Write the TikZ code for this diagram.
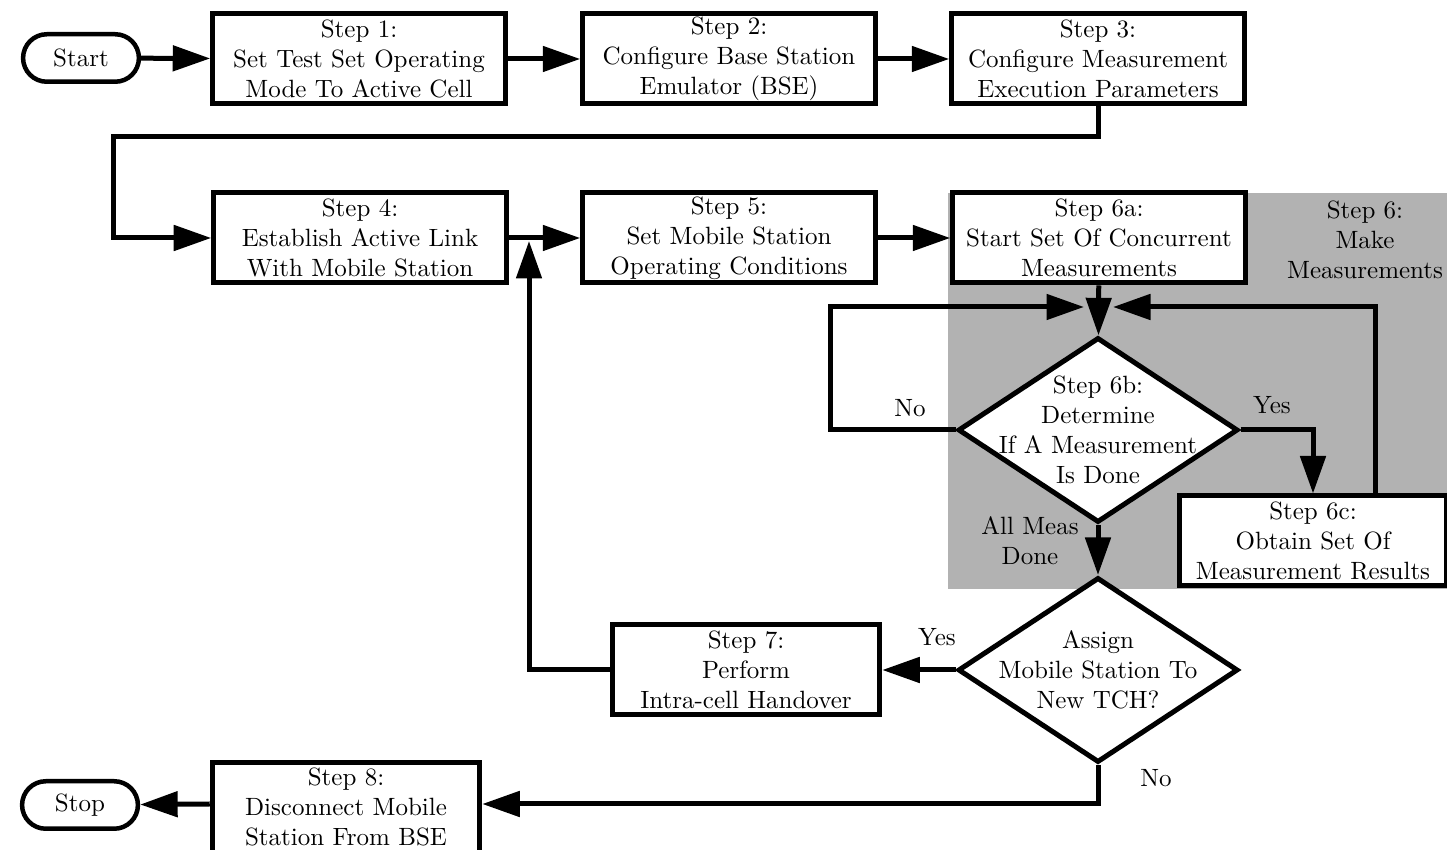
\documentclass[tikz,border=0pt]{standalone}
\usepackage{tikz}
\usepackage{xcolor}
\usetikzlibrary{shapes}
\usetikzlibrary{positioning, arrows.meta}

\definecolor{measgray}{gray}{0.7}

\begin{document}
\begin{tikzpicture}[x=0.4pt, y=-0.4pt,
    stepbox/.style={rectangle, draw, line width=2pt, fill=white, align=center, minimum width=117pt, minimum height=36pt, inner sep=0pt},
    shortbox/.style={stepbox, minimum width=107pt},
    terminal/.style={rounded rectangle, draw, line width=1.8pt, fill=white, minimum width=53pt, minimum height=19pt},
    decision/.style={diamond, draw, line width=2pt, fill=white, minimum width=112pt, minimum height=74pt, inner sep=0pt},
    flow/.style={line width=2pt, -{Triangle[length=15pt, width=10pt]}},
    plain/.style={line width=2pt}]
                \useasboundingbox (0,0) rectangle (1447,850);

                % Step 6 area
                \fill[measgray] (948,193) rectangle (1447,589);
                \node[align=center] (MakeMeas) at (1365,240) {Step 6:\\Make\\Measurements};

                % Nodes
                \node[terminal] (Start) at (81,58) {Start};
                \node[stepbox] (StepOne) at (359,59) {Step 1:\\Set Test Set Operating\\Mode To Active Cell};
                \node[stepbox] (StepTwo) at (729,59) {Step 2:\\Configure Base Station\\Emulator (BSE)};
                \node[stepbox] (StepThree) at (1098,59) {Step 3:\\Configure Measurement\\Execution Parameters};
                \node[stepbox] (StepFour) at (360,238) {Step 4:\\Establish Active Link\\With Mobile Station};
                \node[stepbox] (StepFive) at (729,238) {Step 5:\\Set Mobile Station\\Operating Conditions};
                \node[stepbox] (StepSixA) at (1099,238) {Step 6a:\\Start Set Of Concurrent\\Measurements};
                \node[decision, label={[align=center]center:{Step 6b:\\Determine\\If A Measurement\\Is Done}}] (StepSixB) at (1098,430) {};
                \node[shortbox] (StepSixC) at (1313,541) {Step 6c:\\Obtain Set Of\\Measurement Results};
                \node[decision, label={[align=center]center:{Assign\\Mobile Station To\\New TCH?}}] (Assign) at (1098,670) {};
                \node[shortbox] (StepSeven) at (746,670) {Step 7:\\Perform\\Intra-cell Handover};
                \node[shortbox, minimum height=38pt, label={[align=center, yshift=1.2pt]center:{Step 8:\\Disconnect Mobile\\Station From BSE}}] (StepEight) at (346,810) {};
                \node[terminal] (Stop) at (80,805) {Stop};

                % Bend points
                \coordinate (RowTurn) at (113,137);
                \coordinate (NoTurn) at (830,307);
                \coordinate (NoTip) at (1084,307);
                \coordinate (BackTurn) at (1375,307);
                \coordinate (BackTip) at (1113,307);
                \coordinate (LoopTip) at (529,241);
                \coordinate (StopRow) at (346,804);

                % Edges
                \draw[flow] (Start) -- (StepOne);
                \draw[flow] (StepOne) -- (StepTwo);
                \draw[flow] (StepTwo) -- (StepThree);
                \draw[flow] (StepThree.south) |- (RowTurn) |- (StepFour.west);
                \draw[flow] (StepFour) -- (StepFive);
                \draw[flow] (StepFive) -- (StepSixA);
                \draw[flow] (StepSixA) -- (StepSixB);

                % Step 6b: not done yet
                \draw[flow] (StepSixB.west) -| (NoTurn) -- (NoTip);
                \node (NoLoop) at (910,408) {No};

                % Step 6b: one measurement done
                \draw[flow] (StepSixB.east) -| (StepSixC.north);
                \node (YesSix) at (1272,405) {Yes};
                \draw[flow] (StepSixC.north -| BackTurn) -- (BackTurn) -- (BackTip);

                % Step 6b: all done
                \draw[flow] (StepSixB.south) -- (Assign.north);
                \node[align=center] (AllDone) at (1030,541) {All Meas\\Done};

                % Assign new TCH
                \draw[flow] (Assign.west) -- (StepSeven.east);
                \node (YesSeven) at (937,637) {Yes};
                \draw[flow] (StepSeven.west) -| (LoopTip);
                \draw[flow] (Assign.south) |- (StepEight.east |- StopRow);
                \node (NoEight) at (1156,778) {No};
                \draw[flow] (StepEight.west |- StopRow) -- (Stop);

            \end{tikzpicture}
\end{document}
